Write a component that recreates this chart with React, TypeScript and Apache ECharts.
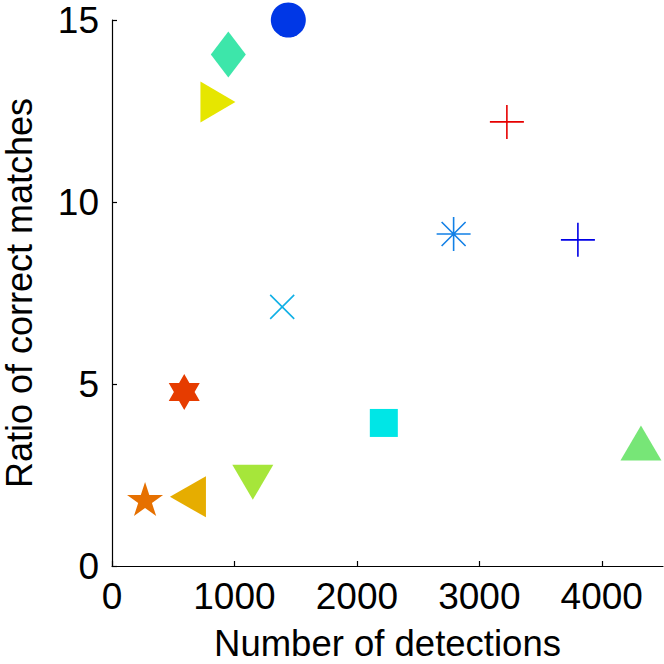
import React, { useEffect, useRef } from "react";
import * as echarts from "echarts";

// ---- data ----
const detections = [1440, 950, 865, 3225, 2790, 3805, 1390, 590, 2220, 4320, 1150, 620, 270];
const ratios = [15.0, 14.05, 12.75, 12.2, 9.12, 8.96, 7.12, 4.78, 3.93, 3.38, 2.3, 1.9, 1.84];
const xTicks = [0, 1000, 2000, 3000, 4000];
const yTicks = [0, 5, 10, 15];
const xTitle = "Number of detections";
const yTitle = "Ratio of correct matches";

// ---- styles ----
function starPath(n: number, rOuter: number, rInner: number) {
  const pts: string[] = [];
  for (let i = 0; i < 2 * n; i++) {
    const r = i % 2 === 0 ? rOuter : rInner;
    const a = (-90 + (180 / n) * i) * (Math.PI / 180);
    pts.push(`${(r * Math.cos(a)).toFixed(4)},${(r * Math.sin(a)).toFixed(4)}`);
  }
  return "path://M" + pts.join("L") + "Z";
}

type Mk = { symbol: string; size: number | number[]; color: string; line?: boolean };
const markers: Mk[] = [
  { symbol: "circle", size: 35, color: "#0037e6" },
  { symbol: "diamond", size: [35, 46], color: "#3de6aa" },
  { symbol: "path://M0,0L2,1L0,2Z", size: [35, 41], color: "#e6e600" },
  { symbol: "path://M0,17L34,17M17,0L17,34", size: 34, color: "#e60000", line: true },
  { symbol: "path://M0,17L34,17M17,0L17,34M5,5L29,29M29,5L5,29", size: 34, color: "#1280e6", line: true },
  { symbol: "path://M0,17L34,17M17,0L17,34", size: 34, color: "#0000e6", line: true },
  { symbol: "path://M0,0L24,24M24,0L0,24", size: 24, color: "#10b0e6", line: true },
  { symbol: starPath(6, 1, 0.5774), size: [31, 36], color: "#e63c00" },
  { symbol: "rect", size: 28, color: "#00e6e6" },
  { symbol: "triangle", size: [41, 35], color: "#77e677" },
  { symbol: "path://M0,0L2,0L1,2Z", size: [41, 35], color: "#a6e63a" },
  { symbol: "path://M2,0L2,2L0,1Z", size: [36, 41], color: "#e6ad00" },
  { symbol: starPath(5, 1, 0.382), size: [36, 34], color: "#e67000" },
];

const FONT = "Liberation Sans";

export default function App() {
  const ref = useRef<HTMLDivElement>(null);
  useEffect(() => {
    if (!ref.current) return;
    const chart = echarts.init(ref.current, undefined, { renderer: "svg" });
    const series = detections.map((x, i) => {
      const m = markers[i];
      return {
        type: "scatter",
        data: [[x, ratios[i]]],
        symbol: m.symbol,
        symbolSize: m.size,
        clip: false,
        itemStyle: m.line
          ? { color: "transparent", borderColor: m.color, borderWidth: 1.6, opacity: 1 }
          : { color: m.color, borderWidth: 0, opacity: 1 },
        emphasis: { disabled: true },
      };
    });
    chart.setOption({
      animation: false,
      backgroundColor: "#ffffff",
      grid: { left: 112, right: 1, top: 20, bottom: 98, containLabel: false, outerBoundsMode: "none" },
      xAxis: {
        type: "value",
        min: 0,
        max: 4500,
        interval: 1000,
        name: xTitle,
        nameLocation: "middle",
        nameGap: 59,
        nameTextStyle: { fontFamily: FONT, fontSize: 36.5, lineHeight: 36, color: "#000" },
        axisLine: { show: true, lineStyle: { color: "#000", width: 1.2 } },
        axisTick: { show: true, inside: true, length: 5, customValues: xTicks, lineStyle: { color: "#000", width: 1.2 } },
        axisLabel: {
          fontFamily: FONT,
          fontSize: 37,
          color: "#000",
          margin: 12,
          customValues: xTicks,
          formatter: (v: number) => String(v),
        },
        splitLine: { show: false },
      },
      yAxis: {
        type: "value",
        min: 0,
        max: 15,
        interval: 5,
        name: yTitle,
        nameLocation: "middle",
        nameGap: 75,
        nameTextStyle: { fontFamily: FONT, fontSize: 36, color: "#000" },
        axisLine: { show: true, lineStyle: { color: "#000", width: 1.2 } },
        axisTick: { show: true, inside: true, length: 5, customValues: yTicks, lineStyle: { color: "#000", width: 1.2 } },
        axisLabel: {
          fontFamily: FONT,
          fontSize: 37,
          color: "#000",
          margin: 13,
          customValues: yTicks,
          formatter: (v: number) => String(v),
        },
        splitLine: { show: false },
      },
      series,
    });
    return () => chart.dispose();
  }, []);
  return <div ref={ref} style={{ width: 664, height: 664, position: "absolute", left: 0, top: 0 }} />;
}
